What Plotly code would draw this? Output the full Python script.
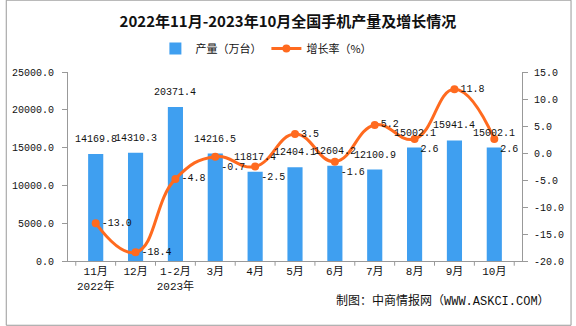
import plotly.graph_objects as go

categories = ["11月<br>2022年", "12月", "1-2月<br>2023年", "3月", "4月", "5月", "6月", "7月", "8月", "9月", "10月"]
production = [14169.8, 14310.3, 20371.4, 14216.5, 11817.4, 12404.1, 12604.2, 12100.9, 15002.1, 15941.4, 15002.1]
growth = [-13.0, -18.4, -4.8, -0.7, -2.5, 3.5, -1.6, 5.2, 2.6, 11.8, 2.6]
growth_label_pos = ["middle right", "middle right", "middle right", "bottom right", "bottom right",
                    "middle right", "bottom right", "middle right", "bottom right", "middle right",
                    "bottom right"]
left_ticks = [0, 5000, 10000, 15000, 20000, 25000]
right_ticks = [-20, -15, -10, -5, 0, 5, 10, 15]

FONT = "Liberation Mono, Noto Sans CJK SC, monospace"
BLUE = "#3f9ff0"
ORANGE = "#ff6a1f"

fig = go.Figure()
fig.add_trace(go.Bar(
    x=categories, y=production, name="产量（万台）",
    marker=dict(color=BLUE, line=dict(width=0)),
))
fig.add_trace(go.Scatter(
    x=categories, y=growth, name="增长率（%）", yaxis="y2",
    mode="lines+markers+text",
    line=dict(color=ORANGE, width=3, shape="spline", smoothing=1.3),
    marker=dict(color=ORANGE, size=8),
    text=[f"{v:.1f}" for v in growth], textposition=growth_label_pos,
    textfont=dict(family=FONT, size=10, color="#111"), cliponaxis=False,
))
for c, v in zip(categories, production):
    fig.add_annotation(x=c, y=v, xref="x", yref="y", text=f"{v:.1f}", showarrow=False,
                       yanchor="bottom", yshift=7,
                       font=dict(family=FONT, size=10, color="#111"))

axis_common = dict(showgrid=False, zeroline=False, showline=True, linecolor="#999",
                   linewidth=1, ticks="outside", tickcolor="#999", ticklen=5,
                   tickfont=dict(family=FONT, size=10, color="#111"))

fig.update_layout(
    width=576, height=326,
    margin=dict(l=63, r=51, t=72, b=65),
    paper_bgcolor="white", plot_bgcolor="white",
    bargap=0.62,
    title=dict(text="<b>2022年11月-2023年10月全国手机产量及增长情况</b>",
               x=0.5, xanchor="center", y=0.933, yanchor="middle",
               font=dict(family="Noto Sans CJK SC", size=15, color="#111")),
    legend=dict(orientation="h", x=0.437, xanchor="center", y=1.125, yanchor="middle",
                font=dict(family="Noto Sans CJK SC", size=11, color="#111"),
                itemwidth=30, traceorder="normal"),
    xaxis=dict(**axis_common, tickmode="array", tickvals=categories, ticktext=categories),
    yaxis=dict(**axis_common, range=[0, 25000], tickvals=left_ticks,
               ticktext=[f"{v:.1f}" for v in left_ticks], ticklabelstandoff=6),
    yaxis2=dict(**axis_common, overlaying="y", side="right", range=[-20, 15],
                tickvals=right_ticks, ticktext=[f"{v:.1f}" for v in right_ticks],
                ticklabelstandoff=4),
    showlegend=True,
)
fig.update_xaxes(ticks="", showline=True, tickfont=dict(family=FONT, size=11, color="#111"))
# tick marks between categories
for i in range(len(categories) + 1):
    fig.add_shape(type="line", xref="x", yref="paper", x0=i - 0.5, x1=i - 0.5, y0=0, y1=-0.025,
                  line=dict(color="#999", width=1))
fig.add_annotation(text="制图：中商情报网（WWW.ASKCI.COM）", xref="paper", yref="paper",
                   x=1.065, y=-0.16, xanchor="right", yanchor="top", showarrow=False,
                   font=dict(family=FONT, size=12, color="#111"))
fig.add_shape(type="rect", xref="paper", yref="paper", x0=-0.136, x1=1.108, y0=-0.34, y1=1.38,
              line=dict(color="#999", width=1))
fig.write_html("out.html")
